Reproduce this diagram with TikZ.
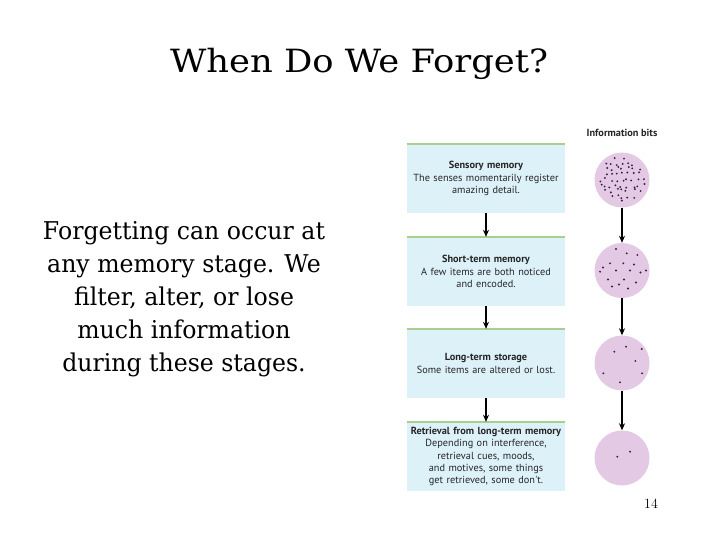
\documentclass[tikz,border=0pt]{standalone}
\usepackage{fontspec}
\usepackage{graphicx}
\newfontfamily\boxfont{PT Sans}
\newfontfamily\slidefont{DejaVu Serif}
\usetikzlibrary{arrows.meta}
\definecolor{boxfill}{HTML}{DDF1F9}
\definecolor{boxline}{HTML}{A8CF8E}
\definecolor{bitfill}{HTML}{E4C9E4}
\definecolor{dotcol}{HTML}{3B1F45}
\definecolor{boxtext}{HTML}{262626}
\begin{document}
\begin{tikzpicture}[x=1pt,y=-1pt,
  stagebox/.style={fill=boxfill, draw=none, minimum width=158pt, minimum height=69pt,
    inner sep=0pt, text width=156pt, align=center, text=boxtext,
    font=\boxfont\fontsize{10.3}{12.2}\selectfont},
  bits/.style={circle, fill=bitfill, minimum size=55pt, inner sep=0pt},
  flow/.style={-{Stealth[length=7pt,width=6pt]}, line width=1.2pt},
  topline/.style={boxline, line width=2pt},
  dot/.style={fill=dotcol}]
\useasboundingbox (0,0) rectangle (720,540);

\node[anchor=base, inner sep=0pt] (title) at (359,73)
  {\resizebox{378pt}{\height}{\slidefont\fontsize{32}{36}\selectfont When Do We Forget?}};

\node[anchor=base, inner sep=0pt] (body) at (184,240)
  {\slidefont\fontsize{24.5}{33}\selectfont
   \resizebox{282pt}{\height}{\begin{tabular}[t]{@{}c@{}}Forgetting can occur at\\any memory stage. We\\filter, alter, or lose\\much information\\during these stages.\end{tabular}}};

\node[font=\boxfont\bfseries\fontsize{10.3}{12}\selectfont, text=boxtext] (infobits) at (622,133) {Information bits};

\node[stagebox] (b1) at (486,178.5) {\textbf{Sensory memory}\\The senses momentarily register\\amazing detail.};
\node[stagebox] (b2) at (486,271.5) {\textbf{Short-term memory}\\A few items are both noticed\\and encoded.};
\node[stagebox] (b3) at (486,363.5) {\textbf{Long-term storage}\\Some items are altered or lost.};
\node[stagebox] (b4) at (486,456.5) {\textbf{Retrieval from long-term memory}\\Depending on interference,\\retrieval cues, moods,\\and motives, some things\\get retrieved, some don't.};

\foreach \b in {b1,b2,b3,b4} \draw[topline] (\b.north west) -- (\b.north east);

\draw[flow] (b1.south) -- (b2.north);
\draw[flow] (b2.south) -- (b3.north);
\draw[flow] (b3.south) -- (b4.north);

\node[bits] (c1) at (622,180) {};
\node[bits] (c2) at (622,270.5) {};
\node[bits] (c3) at (622,363) {};
\node[bits] (c4) at (622,458) {};

\draw[flow] (c1.south) -- (c2.north);
\draw[flow] (c2.south) -- (c3.north);
\draw[flow] (c3.south) -- (c4.north);

\pgfmathsetseed{5}
\foreach \gx in {-22,-16.5,...,23} {
  \foreach \gy in {-22,-16.5,...,23} {
    \pgfmathsetmacro\px{\gx+2.2*rand}
    \pgfmathsetmacro\py{\gy+2.2*rand}
    \pgfmathparse{(\px*\px+\py*\py<23.5*23.5) ? 1 : 0}
    \ifnum\pgfmathresult=1
      \fill[dot, shift={(c1.center)}] (\px,\py) circle (1.05pt);
    \fi
  }
}
\foreach \dx/\dy in {-6/-21.5, 4.7/-17.2, 15.3/-15.5, -12/-7.2, 1.3/-7.2, 12/-6, -22/1.2, -6/0, 8/0, 18.5/2, -14/9, 2/9, 14/12, -10/16, 6/18, -19/-3, 24/0, -3/14} {
  \fill[dot, shift={(c2.center)}] (\dx,\dy) circle (1.05pt);
}
\foreach \dx/\dy in {-7.7/-11.3, 4/-16.3, 19.7/-14, 13.3/-2, -18.7/10.3, 20/10.3, -2/19.3} {
  \fill[dot, shift={(c3.center)}] (\dx,\dy) circle (1.05pt);
}
\foreach \dx/\dy in {-4.7/-1.3, 8/-6.3} {
  \fill[dot, shift={(c4.center)}] (\dx,\dy) circle (1.05pt);
}

\node[font=\fontsize{14}{16}\selectfont] (pagenum) at (651,504) {14};
\end{tikzpicture}
\end{document}
